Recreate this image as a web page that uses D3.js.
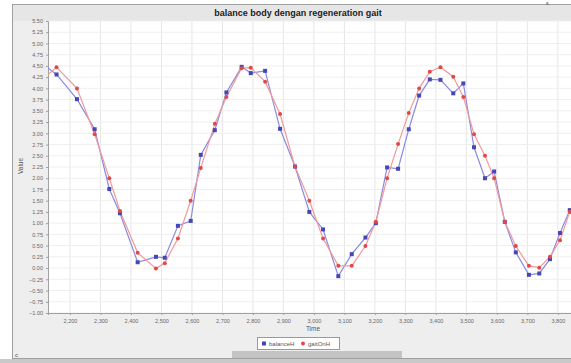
<!DOCTYPE html>
<html>
<head>
<meta charset="utf-8">
<script src="https://cdn.jsdelivr.net/npm/d3@7/dist/d3.min.js"></script>
<style>
  body { margin: 0; background: #fff; overflow: hidden; }
  svg { display: block; font-family: "Liberation Sans", Arial, sans-serif; }
</style>
</head>
<body>
<script>
// time stamps (ms) of the samples
const times = [2100, 2156, 2223, 2281, 2329, 2364, 2422, 2482, 2511, 2554, 2596, 2629, 2675, 2713,
  2763, 2793, 2840, 2889, 2938, 2985, 3030, 3080, 3124, 3169, 3203, 3240, 3276, 3311, 3345,
  3380, 3415, 3457, 3490, 3525, 3561, 3591, 3626, 3662, 3705, 3739, 3774, 3807, 3839];

const balanceH = [4.60, 4.31, 3.76, 3.09, 1.76, 1.22, 0.13, 0.25, 0.23, 0.94, 1.05, 2.52, 3.07, 3.91,
  4.48, 4.34, 4.39, 3.10, 2.26, 1.25, 0.86, -0.18, 0.31, 0.68, 1.00, 2.24, 2.21, 3.09, 3.84,
  4.20, 4.19, 3.89, 4.11, 2.69, 2.00, 2.15, 1.03, 0.35, -0.15, -0.12, 0.20, 0.78, 1.29];

const gaitOnH = [4.15, 4.47, 4.00, 2.98, 2.00, 1.27, 0.34, -0.01, 0.11, 0.66, 1.50, 2.23, 3.21, 3.81,
  4.45, 4.46, 4.15, 3.43, 2.26, 1.50, 0.66, 0.05, 0.05, 0.49, 1.03, 2.00, 2.76, 3.45, 4.00,
  4.37, 4.47, 4.26, 3.81, 2.98, 2.50, 2.00, 1.03, 0.49, 0.05, 0.01, 0.25, 0.62, 1.25];

const xTicks = d3.range(2200, 3801, 100);
const yTicks = d3.range(-1, 5.5001, 0.25);
const seriesNames = ["balanceH", "gaitOnH"];
const chartTitle = "balance body dengan regeneration gait";

const W = 571, H = 363;
const plot = { left: 48, top: 21, right: 578, bottom: 313 };

const svg = d3.select("body").append("svg")
  .attr("width", W).attr("height", H);

// panel
svg.append("rect").attr("x", 12.5).attr("y", 4.5).attr("width", 590).attr("height", 354)
  .attr("fill", "#eeeeee").attr("stroke", "#a0a0a0");
svg.append("rect").attr("x", 13).attr("y", 5).attr("width", 590).attr("height", 16)
  .attr("fill", "#e6e6e6");
svg.append("rect").attr("x", 0).attr("y", 359).attr("width", W).attr("height", 4)
  .attr("fill", "#c9c9c9");

// title
svg.append("text").attr("x", 298).attr("y", 16)
  .attr("text-anchor", "middle").attr("font-size", 9).attr("font-weight", "bold")
  .attr("fill", "#222").text(chartTitle);

const x = d3.scaleLinear().domain([2128, 3866]).range([plot.left, plot.right]);
const y = d3.scaleLinear().domain([-1, 5.5]).range([plot.bottom, plot.top]);

svg.append("rect").attr("x", plot.left).attr("y", plot.top)
  .attr("width", plot.right - plot.left).attr("height", plot.bottom - plot.top)
  .attr("fill", "#fff");

// grid
svg.append("g").selectAll("line").data(xTicks).join("line")
  .attr("x1", d => x(d)).attr("x2", d => x(d))
  .attr("y1", plot.top).attr("y2", plot.bottom)
  .attr("stroke", "#e6e6e6").attr("stroke-width", 1);
svg.append("g").selectAll("line").data(yTicks).join("line")
  .attr("x1", plot.left).attr("x2", plot.right)
  .attr("y1", d => y(d)).attr("y2", d => y(d))
  .attr("stroke", "#efefef").attr("stroke-width", 1);

// axes
const yAxis = svg.append("g").attr("transform", `translate(${plot.left},0)`)
  .call(d3.axisLeft(y).tickValues(yTicks).tickFormat(d3.format(".2f")).tickSize(2).tickPadding(3));
const xAxis = svg.append("g").attr("transform", `translate(0,${plot.bottom})`)
  .call(d3.axisBottom(x).tickValues(xTicks).tickFormat(d3.format(",")).tickSize(2).tickPadding(4));
[yAxis, xAxis].forEach(a => {
  a.select(".domain").attr("stroke", "#a0a0a0");
  a.selectAll(".tick line").attr("stroke", "#a0a0a0");
  a.selectAll("text").attr("font-size", 5.5).attr("fill", "#666")
    .attr("font-family", "'Liberation Sans', Arial, sans-serif");
});

svg.append("text").attr("transform", "translate(23,166) rotate(-90)")
  .attr("text-anchor", "middle").attr("font-size", 6.5).attr("fill", "#555").text("Value");
svg.append("text").attr("x", 313).attr("y", 331)
  .attr("text-anchor", "middle").attr("font-size", 6.5).attr("fill", "#555").text("Time");

// series
svg.append("clipPath").attr("id", "clip").append("rect")
  .attr("x", plot.left).attr("y", plot.top)
  .attr("width", plot.right - plot.left).attr("height", plot.bottom - plot.top);
const g = svg.append("g").attr("clip-path", "url(#clip)");

const series = [
  { name: seriesNames[0], values: balanceH, line: "#8a8ae0", mark: "#4646b4", shape: "square" },
  { name: seriesNames[1], values: gaitOnH, line: "#f29a9a", mark: "#e24848", shape: "circle" }
];

const line = d3.line().x((d, i) => x(times[i])).y(d => y(d));

series.forEach(s => {
  g.append("path").datum(s.values).attr("d", line)
    .attr("fill", "none").attr("stroke", s.line).attr("stroke-width", 1.2);
});
series.forEach(s => {
  const pts = g.append("g");
  if (s.shape === "square") {
    pts.selectAll("rect").data(s.values).join("rect")
      .attr("x", (d, i) => x(times[i]) - 2).attr("y", d => y(d) - 2)
      .attr("width", 4).attr("height", 4).attr("fill", s.mark);
  } else {
    pts.selectAll("circle").data(s.values).join("circle")
      .attr("cx", (d, i) => x(times[i])).attr("cy", d => y(d))
      .attr("r", 2).attr("fill", s.mark);
  }
});

// legend
const lg = svg.append("g").attr("transform", "translate(257,337)");
lg.append("rect").attr("x", 0.5).attr("y", 0.5).attr("width", 82).attr("height", 12)
  .attr("fill", "#fff").attr("stroke", "#999");
lg.append("rect").attr("x", 5).attr("y", 4.5).attr("width", 4).attr("height", 4).attr("fill", series[0].mark);
lg.append("text").attr("x", 12).attr("y", 9).attr("font-size", 6).attr("fill", "#555").text(seriesNames[0]);
lg.append("circle").attr("cx", 46).attr("cy", 6.5).attr("r", 2).attr("fill", series[1].mark);
lg.append("text").attr("x", 51).attr("y", 9).attr("font-size", 6).attr("fill", "#555").text(seriesNames[1]);

// scrollbar and stray glyphs
svg.append("rect").attr("x", 232).attr("y", 351).attr("width", 170).attr("height", 7).attr("fill", "#c4c4c4");
svg.append("text").attr("x", 15).attr("y", 357).attr("font-size", 6).attr("fill", "#555").text("c");
svg.append("text").attr("x", 546).attr("y", 3.5).attr("font-size", 5)
  .attr("font-family", "'Liberation Serif', serif").attr("fill", "#333").text("g");
</script>
</body>
</html>
